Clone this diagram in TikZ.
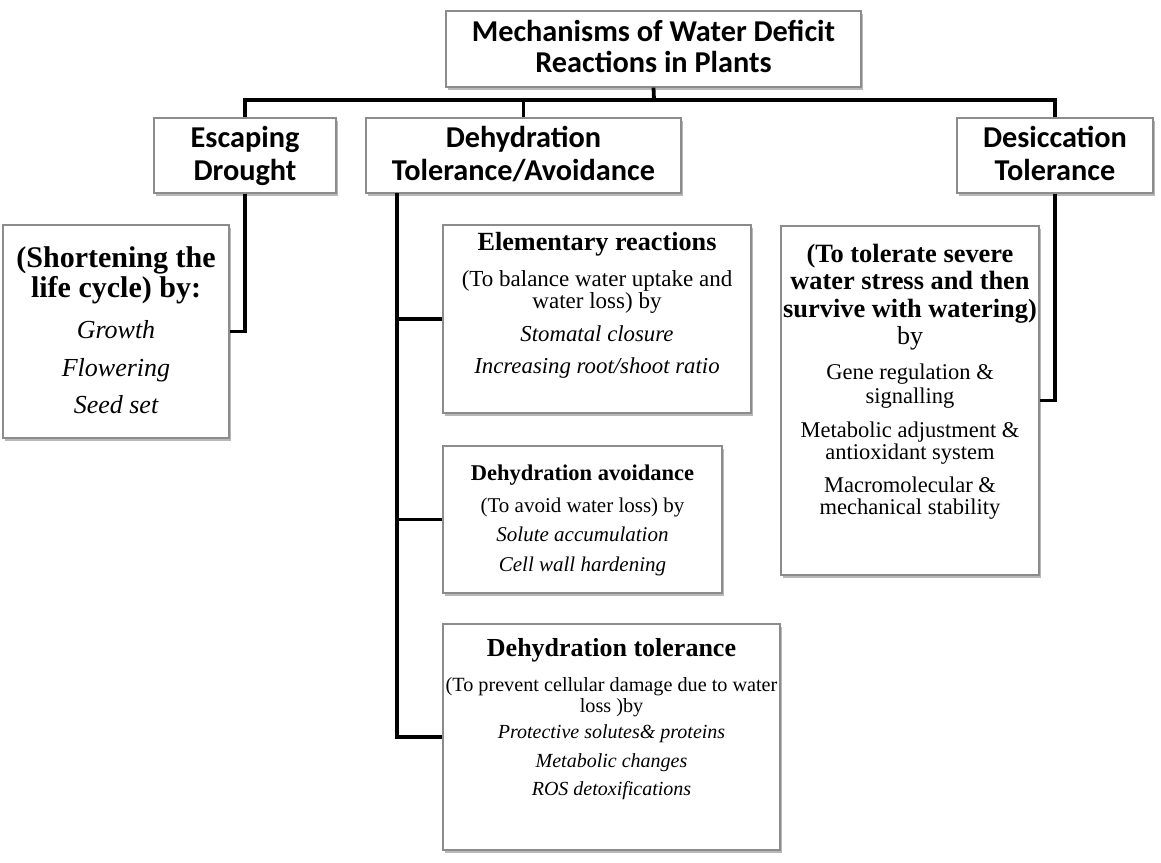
\documentclass[tikz,border=0pt]{standalone}
\usepackage{fontspec}
\setmainfont{Liberation Serif}
\newfontfamily\calfont{Carlito}
\usetikzlibrary{fit,shadows}
\newcommand\fsz[1]{\fontsize{#1}{#1}\selectfont}
\begin{document}
\begin{tikzpicture}[x=1pt,y=-1pt,
  box/.style={draw=black!45, line width=1.2pt, fill=white, inner sep=0pt,
    drop shadow={shadow xshift=2pt, shadow yshift=-2.5pt, fill=black, opacity=0.28}},
  conn/.style={line width=3.8pt, draw=black},
  tl/.style={anchor=base, inner sep=0pt},
  hdr/.style={tl, font=\calfont\bfseries\fsz{30.3}}
]
\useasboundingbox (0,0) rectangle (1161,862);

% ---------- boxes ----------
\node[box, fit={(446,11) (861,87)}] (top) {};
\node[box, fit={(154,118) (336,193)}] (esc) {};
\node[box, fit={(366,118) (681,193)}] (dehy) {};
\node[box, fit={(957,118) (1153,193)}] (desc) {};
\node[box, fit={(3,225) (229,438)}] (short) {};
\node[box, fit={(443,225) (751,413)}] (elem) {};
\node[box, fit={(443,446) (722,593)}] (avoid) {};
\node[box, fit={(443,624) (780,850)}] (dtol) {};
\node[box, fit={(781,226) (1039,575)}] (tol) {};

% ---------- connectors ----------
\coordinate (bus) at (654,100);
\coordinate (dv) at (397,193);
\draw[conn] (top.south) -- (bus);
\draw[conn] (esc.north) |- (bus) -| (desc.north);
\draw[conn] (dehy.north) -- (dehy.north |- bus);
\draw[conn] (esc.south) |- (short.east);
\draw[conn] (dv) |- (dtol.west);
\draw[conn] (dv |- elem.west) -- (elem.west);
\draw[conn] (dv |- avoid.west) -- (avoid.west);
\draw[conn] (desc.south) |- (tol.east);

% ---------- header texts ----------
\node[hdr] (t1) at (653.5,41) {Mechanisms of Water Deficit};
\node[hdr] (t2) at (653.5,72) {Reactions in Plants};
\node[hdr] (e1) at (245,147) {Escaping};
\node[hdr] (e2) at (245,180) {Drought};
\node[hdr] (d1) at (523.5,147) {Dehydration};
\node[hdr] (d2) at (523.5,180) {Tolerance/Avoidance};
\node[hdr] (s1) at (1055,147) {Desiccation};
\node[hdr] (s2) at (1055,180) {Tolerance};

% ---------- shortening box ----------
\begin{scope}[every node/.append style={tl}]
\node[font=\bfseries\fsz{30}] (sh1) at (116,267) {(Shortening the};
\node[font=\bfseries\fsz{30}] (sh2) at (116,297) {life cycle) by:};
\node[font=\itshape\fsz{26}] (sh3) at (116,338) {Growth};
\node[font=\itshape\fsz{26}] (sh4) at (116,376) {Flowering};
\node[font=\itshape\fsz{26}] (sh5) at (116,413) {Seed set};

% ---------- elementary reactions ----------
\node[font=\bfseries\fsz{26.2}] (el1) at (597,250) {Elementary reactions};
\node[font=\fsz{23}] (el2) at (597,286) {(To balance water uptake and};
\node[font=\fsz{23}] (el3) at (597,308) {water loss) by};
\node[font=\itshape\fsz{22.8}] (el4) at (597,341) {Stomatal closure};
\node[font=\itshape\fsz{22.8}] (el5) at (597,373) {Increasing root/shoot ratio};

% ---------- dehydration avoidance ----------
\node[font=\bfseries\fsz{22.5}] (av1) at (582.5,480) {Dehydration avoidance};
\node[font=\fsz{21}] (av2) at (582.5,512) {(To avoid water loss) by};
\node[font=\itshape\fsz{21}] (av3) at (582.5,541) {Solute accumulation};
\node[font=\itshape\fsz{21}] (av4) at (582.5,571) {Cell wall hardening};

% ---------- dehydration tolerance ----------
\node[font=\bfseries\fsz{26}] (dt1) at (611.5,656) {Dehydration tolerance};
\node[font=\fsz{20.2}] (dt2) at (611.5,691) {(To prevent cellular damage due to water};
\node[font=\fsz{20.2}] (dt3) at (611.5,712) {loss )by};
\node[font=\itshape\fsz{20}] (dt4) at (611.5,738) {Protective solutes\& proteins};
\node[font=\itshape\fsz{20}] (dt5) at (611.5,767) {Metabolic changes};
\node[font=\itshape\fsz{20}] (dt6) at (611.5,795) {ROS detoxifications};

% ---------- desiccation tolerance ----------
\node[font=\bfseries\fsz{26.4}] (to1) at (910,262) {(To tolerate severe};
\node[font=\bfseries\fsz{26.4}] (to2) at (910,289) {water stress and then};
\node[font=\bfseries\fsz{26.4}] (to3) at (910,317) {survive with watering)};
\node[font=\fsz{26}] (to4) at (910,344) {by};
\node[font=\fsz{22.5}] (to5) at (910,379) {Gene regulation \&};
\node[font=\fsz{22.5}] (to6) at (910,403) {signalling};
\node[font=\fsz{22.5}] (to7) at (910,437) {Metabolic adjustment \&};
\node[font=\fsz{22.5}] (to8) at (910,459) {antioxidant system};
\node[font=\fsz{22.5}] (to9) at (910,492) {Macromolecular \&};
\node[font=\fsz{22.5}] (to10) at (910,514) {mechanical stability};
\end{scope}
\end{tikzpicture}
\end{document}
